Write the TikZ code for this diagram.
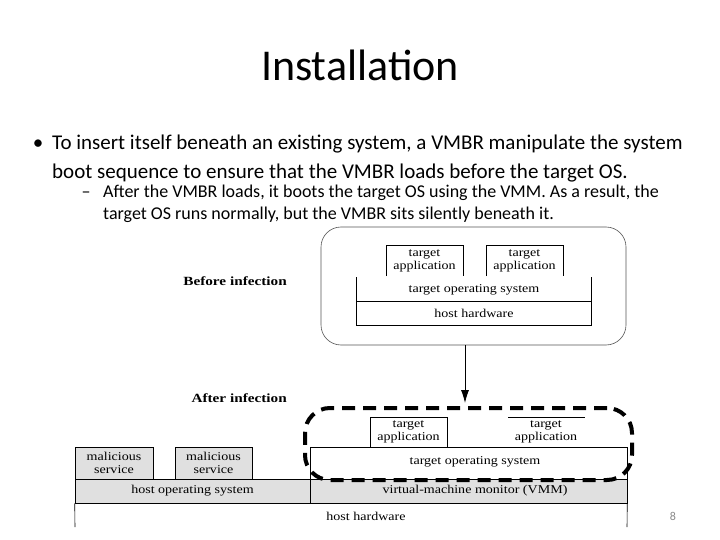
\documentclass[tikz,border=0pt]{standalone}
\usepackage{fontspec}
\setmainfont{Carlito}
\newfontfamily\figfont[FakeStretch=1.17]{Liberation Serif}
\newfontfamily\figboldfont[FakeStretch=1.22]{Liberation Serif}
\usetikzlibrary{arrows.meta}
\definecolor{boxgray}{HTML}{E0E0E0}
\definecolor{pagegray}{HTML}{8A8A8A}
\definecolor{roundgray}{HTML}{555555}
\begin{document}
\begin{tikzpicture}[x=1pt,y=-1pt,
  title/.style={font=\fontsize{44}{50}\selectfont, inner sep=0pt, anchor=base},
  bodyA/.style={font=\fontsize{21}{26}\selectfont, inner sep=0pt, anchor=base west},
  bodyB/.style={font=\fontsize{18}{22}\selectfont, inner sep=0pt, anchor=base west},
  figtxt/.style={font=\figfont\fontsize{12}{13}\selectfont, inner sep=0pt, align=center},
  figlbl/.style={font=\figboldfont\bfseries\fontsize{12.5}{14}\selectfont, inner sep=0pt, anchor=base east},
  layer/.style={draw=black, line width=0.6pt},
  grayfill/.style={fill=boxgray},
  wire/.style={draw=black, line width=0.6pt},
]
\useasboundingbox (0,0) rectangle (720,540);
\fill[white] (0,0) rectangle (720,540);

% title and text
\node[title] (ttl) at (360,81) {Installation};
\node[bodyA, anchor=base] (b1) at (38,150) {•};
\node[bodyA] (l1) at (52,150) {To insert itself beneath an existing system, a VMBR manipulate the system};
\node[bodyA] (l2) at (52,179) {boot sequence to ensure that the VMBR loads before the target OS.};
\node[bodyB, anchor=base] (b2) at (86,198) {–};
\node[bodyB] (l3) at (103,198) {After the VMBR loads, it boots the target OS using the VMM. As a result, the};
\node[bodyB] (l4) at (103,220) {target OS runs normally, but the VMBR sits silently beneath it.};

% labels
\node[figlbl] (before) at (287,285) {Before infection};
\node[figlbl] (after) at (287,402) {After infection};

% ---------- before infection ----------
\node[draw=roundgray, line width=0.6pt, rounded corners=20pt, minimum width=305pt, minimum height=118pt, inner sep=0pt] (topbox) at (473.5,286) {};
\draw[wire] (386,276) -- (386,245) -- (463,245) -- (463,276);
\draw[wire] (486,276) -- (486,245) -- (563,245) -- (563,276);
\node[figtxt] (ta1) at (424.5,261) {target\\application};
\node[figtxt] (ta2) at (524.5,261) {target\\application};
\draw[wire] (356,277) -- (356,325) -- (591,325) -- (591,277);
\draw[wire] (356,301) -- (591,301);
\node[figtxt] (tos) at (474,290) {target operating system};
\node[figtxt] (hh) at (474,313.5) {host hardware};

% ---------- after infection ----------
\node[layer, grayfill, minimum width=78pt, minimum height=32pt, inner sep=0pt] (ms1) at (114,463) {};
\node[figtxt] at (ms1) {malicious\\service};
\node[layer, grayfill, minimum width=77pt, minimum height=32pt, inner sep=0pt] (ms2) at (213.5,463) {};
\node[figtxt] at (ms2) {malicious\\service};
\node[layer, grayfill, minimum width=235pt, minimum height=24pt, inner sep=0pt] (hos) at (192.5,491) {};
\node[figtxt] at (hos) {host operating system};
\node[layer, grayfill, minimum width=317pt, minimum height=24pt, inner sep=0pt] (vmm) at (468.5,491) {};
\node[figtxt] at (475,491) {virtual-machine monitor (VMM)};
\node[layer, fill=white, minimum width=317pt, minimum height=32pt, inner sep=0pt] (tos2) at (468.5,463) {};
\node[figtxt] at (475,462) {target operating system};
\node[layer, minimum width=77pt, minimum height=30pt, inner sep=0pt] (app3) at (408.5,432) {};
\node[figtxt] at (408.5,432) {target\\application};
\draw[wire] (508,417) -- (585,417);
\node[figtxt] (app4) at (546,432) {target\\application};
\draw[wire] (hos.south west) -- (75,527);
\draw[wire] (vmm.south east) -- (627,527);
\node[figtxt] (hh2) at (366,516) {host hardware};

% dashed rounded box
\node[draw=black, line width=4pt, dash pattern=on 13pt off 8pt, rounded corners=25pt, minimum width=327pt, minimum height=72pt, inner sep=0pt] (dashbox) at (468.5,444) {};

% arrow
\coordinate (ax) at (465,0);
\draw[line width=0.8pt, -{Latex[length=13pt,width=8pt]}] (ax |- topbox.south) -- ([yshift=3pt]ax |- dashbox.north);

% page number
\node[font=\fontsize{12}{14}\selectfont, text=pagegray, inner sep=0pt] (pg) at (673,516) {8};
\end{tikzpicture}
\end{document}
